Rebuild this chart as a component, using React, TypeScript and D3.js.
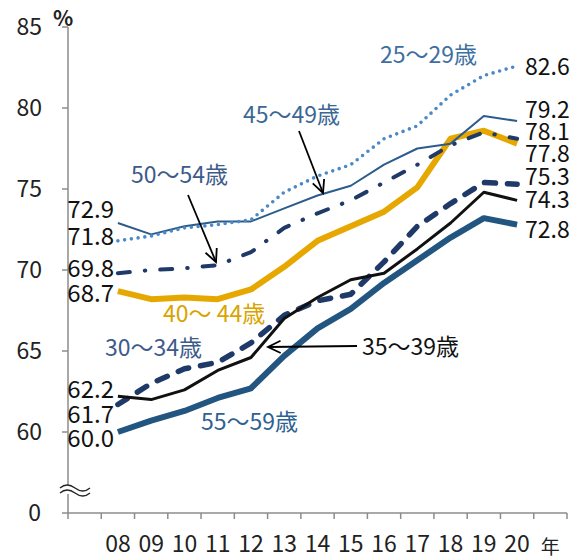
import React from "react";
import * as d3 from "d3";

const years = ["08", "09", "10", "11", "12", "13", "14", "15", "16", "17", "18", "19", "20"];
const slots = ["", ...years, "年"];
const yTicks = [60, 65, 70, 75, 80, 85];

const s25_29 = [71.8, 72.1, 72.6, 72.8, 73.1, 74.8, 75.8, 76.5, 78.1, 78.9, 80.8, 82.0, 82.6];
const s45_49 = [72.9, 72.2, 72.7, 73.0, 73.0, 73.8, 74.6, 75.2, 76.5, 77.5, 77.8, 79.5, 79.2];
const s50_54 = [69.8, 70.0, 70.1, 70.3, 71.1, 72.6, 73.5, 74.3, 75.4, 76.5, 77.7, 78.5, 78.1];
const s40_44 = [68.7, 68.2, 68.3, 68.2, 68.8, 70.2, 71.8, 72.7, 73.6, 75.1, 78.1, 78.6, 77.8];
const s30_34 = [61.7, 63.0, 63.9, 64.3, 65.5, 67.2, 68.1, 68.5, 70.5, 72.7, 74.1, 75.4, 75.3];
const s35_39 = [62.2, 62.0, 62.6, 63.8, 64.6, 67.0, 68.3, 69.4, 69.8, 71.3, 72.9, 74.8, 74.3];
const s55_59 = [60.0, 60.7, 61.3, 62.1, 62.7, 64.7, 66.4, 67.6, 69.2, 70.6, 72.0, 73.2, 72.8];

const FONT = "'Noto Sans CJK JP', 'Noto Sans', sans-serif";

const x = d3.scaleBand<string>().domain(slots).range([68, 567]).padding(0);
const cx = (d: string) => (x(d) as number) + x.bandwidth() / 2;
const y = d3.scaleLinear().domain([60, 85]).range([432, 27]);
const yZero = 513;

const line = d3
  .line<number>()
  .x((_, i) => cx(years[i]))
  .y((v) => y(v));

type S = {
  data: number[];
  color: string;
  width: number;
  dash?: string;
  cap?: "round" | "butt";
};

const series: S[] = [
  { data: s40_44, color: "#e6a800", width: 6 },
  { data: s55_59, color: "#22557f", width: 6 },
  { data: s30_34, color: "#1f3a68", width: 5.5, dash: "11 12", cap: "round" },
  { data: s35_39, color: "#111111", width: 3 },
  { data: s45_49, color: "#2b5c8c", width: 2 },
  { data: s50_54, color: "#1f3a68", width: 4, dash: "12 15 0.5 15", cap: "round" },
  { data: s25_29, color: "#4a88c7", width: 3.6, dash: "0 6.8", cap: "round" },
];

const leftLabels = [
  { v: s45_49[0], b: 218 },
  { v: s25_29[0], b: 245 },
  { v: s50_54[0], b: 277 },
  { v: s40_44[0], b: 302 },
  { v: s35_39[0], b: 398 },
  { v: s30_34[0], b: 423 },
  { v: s55_59[0], b: 447 },
];
const last = years.length - 1;
const rightLabels = [
  { v: s25_29[last], b: 75 },
  { v: s45_49[last], b: 118 },
  { v: s50_54[last], b: 140 },
  { v: s40_44[last], b: 162 },
  { v: s30_34[last], b: 185 },
  { v: s35_39[last], b: 208 },
  { v: s55_59[last], b: 238 },
];

const seriesLabels = [
  { t: "25〜29歳", x: 380, b: 63, c: "#3e6fa0" },
  { t: "45〜49歳", x: 243, b: 123, c: "#3a6896" },
  { t: "50〜54歳", x: 131, b: 183, c: "#3d5a8a" },
  { t: "40〜 44歳", x: 163, b: 322, c: "#d9a300" },
  { t: "30〜34歳", x: 105, b: 356, c: "#3d5a8a" },
  { t: "55〜59歳", x: 201, b: 430, c: "#2f6191" },
  { t: "35〜39歳", x: 362, b: 355, c: "#111111" },
];

function Arrow({ x1, y1, x2, y2 }: { x1: number; y1: number; x2: number; y2: number }) {
  const a = Math.atan2(y2 - y1, x2 - x1);
  const L = 14;
  const sp = 0.45;
  const p1 = [x2 - L * Math.cos(a - sp), y2 - L * Math.sin(a - sp)];
  const p2 = [x2 - L * Math.cos(a + sp), y2 - L * Math.sin(a + sp)];
  return (
    <g stroke="#000" strokeWidth={1.8} fill="none">
      <line x1={x1} y1={y1} x2={x2} y2={y2} />
      <polyline points={`${p1[0]},${p1[1]} ${x2},${y2} ${p2[0]},${p2[1]}`} />
    </g>
  );
}

export default function App() {
  return (
    <svg
      width={577}
      height={560}
      style={{ position: "absolute", left: 0, top: 0, background: "#fff" }}
      fontFamily={FONT}
    >
      <rect width={577} height={560} fill="#fff" />
      {/* axes */}
      <line x1={68} y1={y(85)} x2={68} y2={yZero} stroke="#8c8c8c" strokeWidth={1.5} />
      {yTicks.map((t) => (
        <g key={t}>
          <line x1={62} x2={68} y1={y(t)} y2={y(t)} stroke="#8c8c8c" strokeWidth={1.5} />
          <text x={42} y={y(t)} dy="0.36em" textAnchor="end" fontSize={23} fill="#222">
            {t}
          </text>
        </g>
      ))}
      <line x1={62} x2={68} y1={yZero} y2={yZero} stroke="#8c8c8c" strokeWidth={1.5} />
      <text x={41} y={yZero} dy="0.36em" textAnchor="end" fontSize={23} fill="#222">
        0
      </text>
      <text x={53} y={26} fontSize={21} fontWeight="bold" fill="#222">
        %
      </text>
      <line x1={68} x2={567} y1={yZero} y2={yZero} stroke="#8c8c8c" strokeWidth={1.5} />
      {slots.map((s) => (
        <line
          key={"t" + s}
          x1={x(s) as number}
          x2={x(s) as number}
          y1={yZero}
          y2={yZero + 6}
          stroke="#8c8c8c"
          strokeWidth={1.5}
        />
      ))}
      <line x1={567} x2={567} y1={yZero} y2={yZero + 6} stroke="#8c8c8c" strokeWidth={1.5} />
      {years.map((yr) => (
        <text key={yr} x={cx(yr)} y={552} textAnchor="middle" fontSize={23} fill="#222">
          {yr}
        </text>
      ))}
      <text x={cx("年")} y={554} textAnchor="middle" fontSize={19} fill="#222">
        年
      </text>
      {/* break mark */}
      <g stroke="#222" strokeWidth={1.3} fill="none">
        <rect x={60} y={485} width={30} height={9} fill="#fff" stroke="none" />
        <path d="M60,488 q7,-6 15,0 t15,0" />
        <path d="M60,493 q7,-6 15,0 t15,0" />
      </g>
      {/* series */}
      {series.map((s, i) => (
        <path
          key={i}
          d={line(s.data) as string}
          fill="none"
          stroke={s.color}
          strokeWidth={s.width}
          strokeDasharray={s.dash}
          strokeLinecap={s.cap || "butt"}
          strokeLinejoin="round"
        />
      ))}
      {/* value labels */}
      {leftLabels.map((l, i) => (
        <text key={"l" + i} x={114} y={l.b} textAnchor="end" fontSize={24} fill="#111">
          {l.v.toFixed(1)}
        </text>
      ))}
      {rightLabels.map((l, i) => (
        <text key={"r" + i} x={525} y={l.b} fontSize={23} fill="#111">
          {l.v.toFixed(1)}
        </text>
      ))}
      {seriesLabels.map((l) => (
        <text key={l.t} x={l.x} y={l.b} fontSize={23} fill={l.c} xmlSpace="preserve">
          {l.t}
        </text>
      ))}
      <Arrow x1={299} y1={131} x2={323} y2={193} />
      <Arrow x1={188} y1={195} x2={216} y2={262} />
      <Arrow x1={357} y1={346} x2={268} y2={347} />
    </svg>
  );
}
